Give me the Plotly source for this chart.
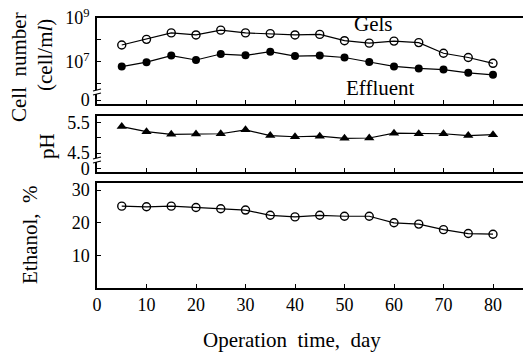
import plotly.graph_objects as go

days = [5, 10, 15, 20, 25, 30, 35, 40, 45, 50, 55, 60, 65, 70, 75, 80]
gels = [5.9e7, 1.07e8, 2.1e8, 1.7e8, 2.8e8, 2.1e8, 1.95e8, 1.7e8, 1.8e8, 9.3e7,
        7.2e7, 8.9e7, 7.6e7, 2.5e7, 1.6e7, 8.7e6]
effluent = [6.2e6, 9.8e6, 1.95e7, 1.23e7, 2.3e7, 2.0e7, 2.95e7, 1.86e7, 1.95e7, 1.6e7,
            1.0e7, 6.3e6, 5.1e6, 4.5e6, 3.2e6, 2.6e6]
ph = [5.38, 5.21, 5.12, 5.13, 5.14, 5.27, 5.08, 5.04, 5.06, 4.99,
      5.00, 5.16, 5.14, 5.14, 5.08, 5.11]
ethanol = [25.1, 24.9, 25.1, 24.7, 24.3, 23.9, 22.3, 21.8, 22.3, 22.0,
           22.0, 20.0, 19.6, 17.9, 16.7, 16.5]
x_ticks = [0, 10, 20, 30, 40, 50, 60, 70, 80]
cell_ticktext = ["10<sup>9</sup>", "10<sup>7</sup>", "0"]
ph_ticktext = ["5.5", "4.5", "0"]

W, H = 523, 352
L, R, T, B = 97, 0, 18, 64
PW, PH = W - L - R, H - T - B


def px(xp):
    return (xp - L) / PW


def py(yp):
    return (H - B - yp) / PH


FONT = "Liberation Serif"
BLACK = "black"

fig = go.Figure()
line = dict(color=BLACK, width=1.2)

fig.add_trace(go.Scatter(x=days, y=gels, mode="lines+markers", line=line,
                         marker=dict(symbol="circle-open", size=8, color=BLACK, line=dict(width=1.4)),
                         xaxis="x", yaxis="y", showlegend=False))
fig.add_trace(go.Scatter(x=days, y=effluent, mode="lines+markers", line=line,
                         marker=dict(symbol="circle", size=8, color=BLACK),
                         xaxis="x", yaxis="y", showlegend=False))
fig.add_trace(go.Scatter(x=days, y=ph, mode="lines+markers", line=line,
                         marker=dict(symbol="triangle-up", size=9, color=BLACK),
                         xaxis="x2", yaxis="y2", showlegend=False))
fig.add_trace(go.Scatter(x=days, y=ethanol, mode="lines+markers", line=line,
                         marker=dict(symbol="circle-open", size=8, color=BLACK, line=dict(width=1.4)),
                         xaxis="x3", yaxis="y3", showlegend=False))

xrange = [0, PW / 4.95]
tickfont = dict(family=FONT, size=18, color=BLACK)

y1_range = [5.09, 9.0]
y2_range = [3.87, 5.73]

common_x = dict(range=xrange, showline=True, linecolor=BLACK, linewidth=1.5, mirror=True,
                ticks="inside", ticklen=4, tickcolor=BLACK, tickvals=x_ticks,
                showgrid=False, zeroline=False, domain=[0, 1], tickfont=tickfont)
common_y = dict(showline=True, linecolor=BLACK, linewidth=1.5, mirror=False,
                ticks="inside", ticklen=4, tickcolor=BLACK, showgrid=False,
                zeroline=False, tickfont=tickfont, ticklabelstandoff=2)

fig.update_layout(
    width=W, height=H,
    margin=dict(l=L, r=R, t=T, b=B),
    paper_bgcolor="white", plot_bgcolor="white",
    font=dict(family=FONT, color=BLACK),
    xaxis=dict(**common_x, anchor="y", showticklabels=False),
    xaxis2=dict(**common_x, anchor="y2", showticklabels=False),
    xaxis3=dict(**common_x, anchor="y3", showticklabels=True,
                ticktext=[str(v) for v in x_ticks]),
    yaxis=dict(**common_y, type="log", range=y1_range,
               domain=[py(104), py(18)], anchor="x",
               tickvals=[1e9, 1e7, 10 ** 5.27],
               ticktext=cell_ticktext,
               minor=dict(tickvals=[1e8, 1e6], ticks="inside", ticklen=4, tickcolor=BLACK)),
    yaxis2=dict(**common_y, range=y2_range,
                domain=[py(172), py(116)], anchor="x2",
                tickvals=[5.5, 4.5, 3.98], ticktext=ph_ticktext,
                minor=dict(tickvals=[5.0], ticks="inside", ticklen=4, tickcolor=BLACK)),
    yaxis3=dict(**common_y, range=[0, 32.2],
                domain=[py(288), py(183)], anchor="x3",
                tickvals=[10, 20, 30], ticktext=["10", "20", "30"]),
)

title_font = dict(family=FONT, size=21, color=BLACK)
ann = [
    dict(text="Cell  number", x=px(19), y=py(67), textangle=-90),
    dict(text="(cell/m<i>l</i>)", x=px(45), y=py(55), textangle=-90),
    dict(text="pH", x=px(47), y=py(146), textangle=-90),
    dict(text="Ethanol,  %", x=px(30), y=py(235), textangle=-90),
    dict(text="Operation  time,  day", x=px(292), y=py(340), textangle=0),
    dict(text="Gels", x=px(373), y=py(24), textangle=0),
    dict(text="Effluent", x=px(380), y=py(88), textangle=0),
]
for a in ann:
    fig.add_annotation(xref="paper", yref="paper", showarrow=False,
                       xanchor="center", yanchor="middle", font=title_font, **a)

# axis break marks
for yb in (92, 160):
    fig.add_shape(type="rect", xref="paper", yref="paper",
                  x0=px(95), x1=px(100), y0=py(yb + 2), y1=py(yb - 2),
                  fillcolor="white", line=dict(width=0), layer="above")
    for dy in (-2, 2):
        fig.add_shape(type="line", xref="paper", yref="paper",
                      x0=px(93), x1=px(101), y0=py(yb + dy + 1), y1=py(yb + dy - 1),
                      line=dict(color=BLACK, width=1.2), layer="above")

fig.write_html("out.html")
